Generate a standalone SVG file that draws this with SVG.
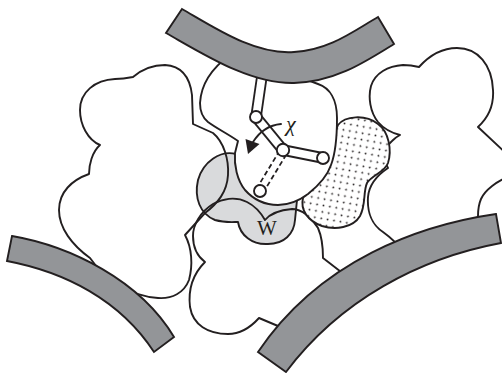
<svg xmlns="http://www.w3.org/2000/svg" width="502" height="373" viewBox="0 0 502 373">
  <style>
    .ln { stroke: #231f20; stroke-width: 1.9; stroke-linejoin: round; stroke-linecap: round; }
    .blob { fill: #ffffff; }
    .open { fill: none; }
    .band { fill: #939598; stroke: #231f20; stroke-width: 1.9; stroke-linejoin: miter; }
    .shade { fill: #d9dadc; }
    .dots { fill: url(#stipple); }
    .barOut { stroke: #231f20; stroke-width: 11.5; stroke-linecap: butt; }
    .barIn { stroke: #ffffff; stroke-width: 7.8; stroke-linecap: butt; }
    .dash { stroke: #231f20; stroke-width: 1.8; stroke-dasharray: 5 3; fill: none; }
    .joint { fill: #ffffff; stroke: #231f20; stroke-width: 1.9; }
    .lbl { font-family: "Liberation Serif", "Times New Roman", serif; fill: #231f20; }
  </style>
  <defs>
    <pattern id="stipple" width="6.5" height="6.5" patternUnits="userSpaceOnUse" patternTransform="rotate(10)">
      <rect width="6.5" height="6.5" fill="#ffffff"/>
      <circle cx="3.25" cy="3.25" r="0.9" fill="#231f20"/>
    </pattern>
  </defs>

  <!-- right-hand blob (runs off the right edge and under the lower band) -->
  <g id="blob-right">
    <path class="blob ln" d="M419,67 C428,57 440,48 457,48 C478,48 492,65 493,90 C494,105 488,118 478,127 L510,157 L510,176 C497,181 485,190 481,199 C478,206 478,211 478,216 L470,246 L406,254 C396,242 390,237 383,232 C372,225 367,212 368,197 C369,185 376,176 388,168 C383,160 384,148 392,141 C395,138 398,136 400,135 C392,133 384,129 378,122 C370,112 368,97 371,86 C375,73 388,66 403,65 C410,65 415,66 419,67 Z"/>
  </g>

  <!-- shaded pocket with the W lobe -->
  <g id="pocket-w">
    <path class="shade ln" d="M236,154 C220,150 203,162 198,180 C194,198 200,214 215,220 C225,223 233,222 238,222 C240,235 252,245 268,244 C284,244 294,234 295,220 L297,200 L300,192 L250,148 Z"/>
    <text class="lbl" x="267" y="235" font-size="21" text-anchor="middle">W</text>
  </g>

  <!-- left blob -->
  <g id="blob-left">
    <path class="open ln" d="M133,77 C140,71 150,65 165,65 C182,66 190,78 192,95 L193,124 L213,133 C224,142 229,160 228,175 C227,192 218,203 205,213 L185,235 C192,248 193,265 189,280 C184,293 172,299 158,298 C130,296 105,280 90,258 C72,245 59,228 59,210 C59,192 72,180 89,174 C89,165 92,152 100,145 C88,140 80,125 80,110 C80,92 95,80 115,79 C122,79 128,78 133,77 Z"/>
  </g>

  <!-- lower middle blob -->
  <g id="blob-lower">
    <path class="open ln" d="M205,262 C197,256 193,246 193,236 C193,225 200,212 213,204 C222,199 235,196 247,202 C255,206 261,213 265,220 C270,214 280,210 292,209 C302,209 312,218 318,228 C322,237 323,248 323,258 L345,275 L290,335 L278,326 L259,318 C250,328 240,334 228,334 C208,334 193,325 190,307 C188,290 192,275 205,262 Z"/>
  </g>

  <!-- stippled blob -->
  <g id="blob-dotted">
    <path class="dots ln" d="M338,125 C345,116 365,114 378,124 C389,132 392,150 388,163 C385,172 372,175 367,183 C363,192 366,205 360,216 C353,228 335,230 322,226 C308,221 300,210 303,198 L325,165 L334,135 Z"/>
  </g>

  <!-- central blob holding the side chain -->
  <g id="blob-center">
    <path class="blob ln" d="M230,55 C212,68 201,85 200,103 C200,112 203,118 208,122 C216,128 228,134 238,141 L235,153 C234,165 237,180 245,190 C253,199 263,205 278,205 C290,205 300,200 308,194 C318,186 327,177 331,165 C336,152 337,135 337,118 C337,100 330,88 318,84 C306,80 296,74 290,68 Z"/>
  </g>

  <!-- side chain: bonds, joints and rotation arrow -->
  <g id="side-chain">
    <line class="barOut" x1="264" y1="62" x2="256" y2="117"/>
    <line class="barIn" x1="264" y1="62" x2="256" y2="117"/>
    <line class="barOut" x1="256" y1="117" x2="283" y2="150"/>
    <line class="barIn" x1="256" y1="117" x2="283" y2="150"/>
    <line class="barOut" x1="283" y1="150" x2="323" y2="158"/>
    <line class="barIn" x1="283" y1="150" x2="323" y2="158"/>
    <line class="dash" x1="286.3" y1="154.5" x2="263.3" y2="192.5"/>
    <line class="dash" x1="279.7" y1="150.5" x2="256.7" y2="188.5"/>
    <circle class="joint" cx="256" cy="117" r="6"/>
    <circle class="joint" cx="283" cy="150" r="6.2"/>
    <circle class="joint" cx="323" cy="158" r="6"/>
    <circle class="joint" cx="260" cy="191" r="6"/>
    <path class="ln open" d="M281,124 C270,125 260,131 253,142"/>
    <polygon points="245.5,139 259.5,144 248,154" fill="#231f20"/>
    <text class="lbl" x="286" y="131" font-size="22" font-style="italic">χ</text>
  </g>

  <!-- bounding bands -->
  <g id="band-top">
    <path class="band" d="M182,9 C215,28 255,55 294,52 C330,50 355,30 378,17 L394,44 C365,62 335,82 294,83 C250,84 205,55 166,33 Z"/>
  </g>
  <g id="band-left">
    <path class="band" d="M12,236 C70,246 140,280 174,337 L154,352 C120,300 65,272 7,261 Z"/>
  </g>
  <g id="band-right">
    <path class="band" d="M496,214 C420,225 320,260 258,352 L286,372 C340,300 420,258 501,243 Z"/>
  </g>
</svg>
